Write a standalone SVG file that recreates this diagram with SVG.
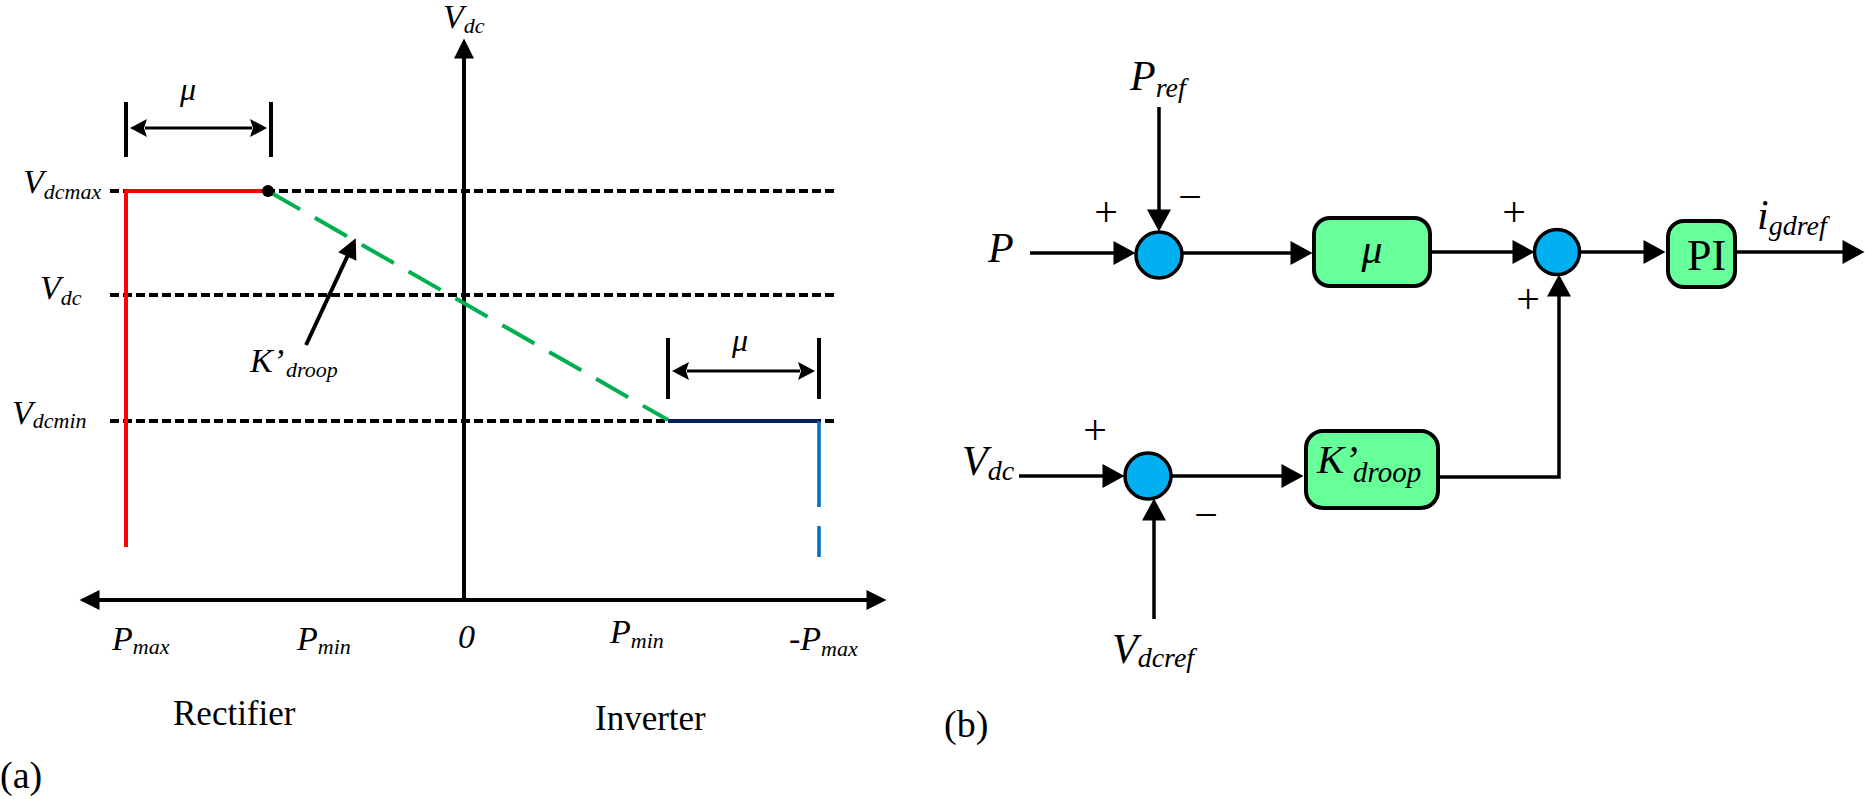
<svg xmlns="http://www.w3.org/2000/svg" width="1865" height="799" viewBox="0 0 1865 799">
<style>
text{font-family:"Liberation Serif","Times New Roman",serif;fill:#000}
.it{font-style:italic}
.l{font-size:34px}
.s{font-size:22px}
.r{font-size:42px}
.rs{font-size:28px}
.pm{font-size:42px;text-anchor:middle}
.cap{font-size:35px}
.fig{font-size:38px}
.ax{stroke:#000;stroke-width:4;fill:none}
.tick{stroke:#000;stroke-width:4}
.dim{stroke:#000;stroke-width:3;fill:none}
.dash{stroke:#000;stroke-width:4;stroke-dasharray:9 4;fill:none}
.wire{stroke:#000;stroke-width:3.5;fill:none}
.sum{fill:#00B0F0;stroke:#000;stroke-width:3.5}
.blk{fill:#66FF99;stroke:#000;stroke-width:4}
</style>
<defs>
<marker id="ah" markerUnits="userSpaceOnUse" markerWidth="22" markerHeight="24" refX="0.5" refY="12" orient="auto" overflow="visible"><path d="M0,0 L22,12 L0,24 z" fill="#000"/></marker>
<marker id="axh" markerUnits="userSpaceOnUse" markerWidth="20" markerHeight="20" refX="0.5" refY="10" orient="auto-start-reverse" overflow="visible"><path d="M0,0 L20,10 L0,20 z" fill="#000"/></marker>
<marker id="dh" markerUnits="userSpaceOnUse" markerWidth="17" markerHeight="18" refX="2" refY="9" orient="auto-start-reverse" overflow="visible"><path d="M0,0 L17,9 L0,18 L3,9 z" fill="#000"/></marker>
</defs>

<!-- (a) droop characteristic -->
<g id="chart-a">
  <g id="guides">
    <line class="dash" x1="110" y1="191" x2="837" y2="191"/>
    <line class="dash" x1="110" y1="295" x2="837" y2="295"/>
    <line class="dash" x1="110" y1="421" x2="837" y2="421"/>
  </g>
  <g id="axes">
    <line class="ax" x1="464" y1="602" x2="464" y2="58" marker-end="url(#axh)"/>
    <line class="ax" x1="99" y1="600" x2="867" y2="600" marker-start="url(#axh)" marker-end="url(#axh)"/>
  </g>
  <g id="curves">
    <polyline points="126,547 126,191 268,191" fill="none" stroke="#FF0000" stroke-width="4"/>
    <line x1="268" y1="191" x2="668" y2="420" stroke="#00B050" stroke-width="4" stroke-dasharray="37 17"/>
    <line x1="668" y1="421" x2="819" y2="421" stroke="#002060" stroke-width="4"/>
    <line x1="819" y1="421" x2="819" y2="557" stroke="#0070C0" stroke-width="3.5" stroke-dasharray="86 19 31 100"/>
    <circle cx="268" cy="191" r="6" fill="#000"/>
  </g>
  <g id="mu-dim-1">
    <line class="tick" x1="126" y1="102" x2="126" y2="157"/>
    <line class="tick" x1="271" y1="102" x2="271" y2="157"/>
    <line class="dim" x1="145" y1="128" x2="252" y2="128" marker-start="url(#dh)" marker-end="url(#dh)"/>
    <text class="it" style="font-size:32px" x="180" y="100">μ</text>
  </g>
  <g id="mu-dim-2">
    <line class="tick" x1="668" y1="338" x2="668" y2="399"/>
    <line class="tick" x1="819" y1="338" x2="819" y2="399"/>
    <line class="dim" x1="687" y1="371" x2="800" y2="371" marker-start="url(#dh)" marker-end="url(#dh)"/>
    <text class="it" style="font-size:32px" x="732" y="351">μ</text>
  </g>
  <g id="kdroop-pointer">
    <line x1="306" y1="345" x2="347.5" y2="256" stroke="#000" stroke-width="4" marker-end="url(#axh)"/>
    <text class="it l" x="250" y="372">K’<tspan class="s" x="286" dy="5">droop</tspan></text>
  </g>
  <g id="labels-a">
    <text class="it l" x="443" y="28">V<tspan class="s" dy="5">dc</tspan></text>
    <text class="it l" x="23" y="193">V<tspan class="s" dy="6">dcmax</tspan></text>
    <text class="it l" x="40" y="299">V<tspan class="s" dy="6">dc</tspan></text>
    <text class="it l" x="12" y="424">V<tspan class="s" dy="4">dcmin</tspan></text>
    <text class="it l" x="112" y="650">P<tspan class="s" dy="4">max</tspan></text>
    <text class="it l" x="297" y="650">P<tspan class="s" dy="4">min</tspan></text>
    <text class="it l" x="458" y="648">0</text>
    <text class="it l" x="610" y="643">P<tspan class="s" dy="5">min</tspan></text>
    <text class="it l" x="789" y="650">-P<tspan class="s" dy="6">max</tspan></text>
    <text class="cap" x="173" y="725">Rectifier</text>
    <text class="cap" x="595" y="730">Inverter</text>
    <text class="fig" x="0" y="788">(a)</text>
  </g>
</g>

<!-- (b) control block diagram -->
<g id="connectors">
  <line class="wire" x1="1030" y1="253" x2="1114" y2="253" marker-end="url(#ah)"/>
  <line class="wire" x1="1159" y1="107" x2="1159" y2="210" marker-end="url(#ah)"/>
  <line class="wire" x1="1182" y1="253" x2="1291" y2="253" marker-end="url(#ah)"/>
  <line class="wire" x1="1432" y1="252" x2="1513" y2="252" marker-end="url(#ah)"/>
  <line class="wire" x1="1580" y1="252" x2="1644" y2="252" marker-end="url(#ah)"/>
  <line class="wire" x1="1737" y1="252" x2="1843" y2="252" marker-end="url(#ah)"/>
  <line class="wire" x1="1019" y1="476" x2="1103" y2="476" marker-end="url(#ah)"/>
  <line class="wire" x1="1154" y1="619" x2="1154" y2="520" marker-end="url(#ah)"/>
  <line class="wire" x1="1171" y1="476" x2="1282" y2="476" marker-end="url(#ah)"/>
  <polyline class="wire" points="1440,477 1559,477 1559,296" marker-end="url(#ah)"/>
</g>

<g id="sum1">
  <circle class="sum" cx="1159" cy="255" r="23"/>
  <text class="pm" x="1106" y="226">+</text>
  <text class="pm" x="1190" y="211">−</text>
</g>
<g id="sum2">
  <circle class="sum" cx="1557" cy="252" r="22.5"/>
  <text class="pm" x="1514" y="226">+</text>
  <text class="pm" x="1528" y="313">+</text>
</g>
<g id="sum3">
  <circle class="sum" cx="1148" cy="476" r="23"/>
  <text class="pm" x="1095" y="444">+</text>
  <text class="pm" x="1206" y="529">−</text>
</g>
<g id="block-mu">
  <rect class="blk" x="1314" y="218" width="116" height="68" rx="16"/>
  <text class="it r" x="1372" y="263" text-anchor="middle">μ</text>
</g>
<g id="block-pi">
  <rect class="blk" x="1668" y="221" width="67" height="66" rx="16"/>
  <text style="font-size:44px" x="1687" y="270">PI</text>
</g>
<g id="block-kdroop">
  <rect class="blk" x="1306" y="431" width="132" height="77" rx="17"/>
  <text class="it" style="font-size:41px" x="1317" y="473">K’<tspan style="font-size:29px" x="1353" dy="9">droop</tspan></text>
</g>
<g id="labels-b">
  <text class="it r" x="988" y="262">P</text>
  <text class="it r" x="1130" y="90">P<tspan class="rs" dy="7">ref</tspan></text>
  <text class="it r" x="1757" y="229">i<tspan class="rs" dy="6">gdref</tspan></text>
  <text class="it r" x="962" y="475">V<tspan class="rs" dy="5">dc</tspan></text>
  <text class="it r" x="1112" y="663">V<tspan class="rs" dy="4">dcref</tspan></text>
  <text class="fig" x="944" y="737">(b)</text>
</g>
</svg>
